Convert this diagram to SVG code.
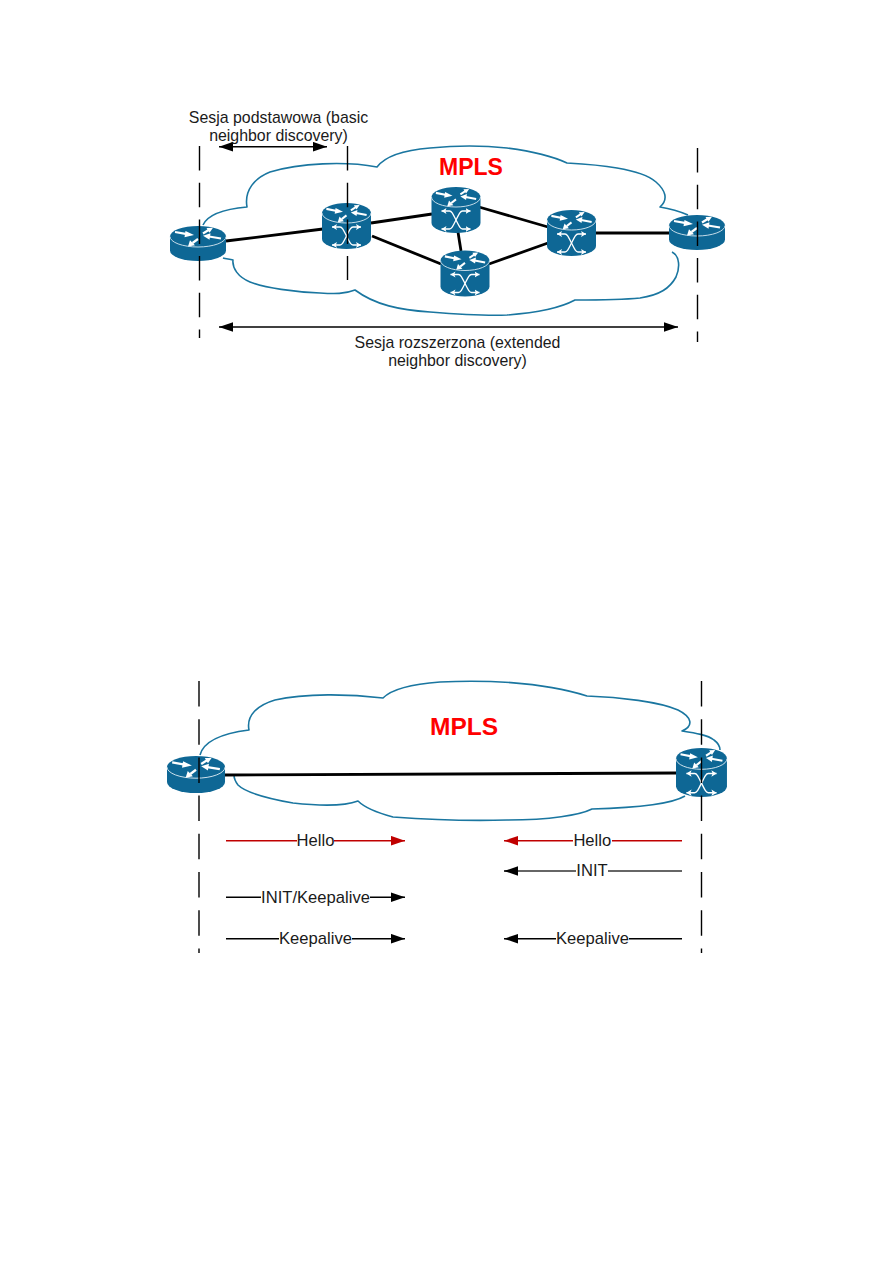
<svg xmlns="http://www.w3.org/2000/svg" width="893" height="1263" viewBox="0 0 893 1263">
<style>
text{font-family:"Liberation Sans",Arial,sans-serif;fill:#1a1a1a;font-size:15.9px;text-anchor:middle}
.low{font-size:16.6px}
.mpls{font-weight:bold;fill:#ff0000}
.cloud{fill:none;stroke:#1a76a0;stroke-width:1.6;stroke-linejoin:round}
.link{stroke:#000;stroke-width:2.8;fill:none}
.dash1{stroke:#000;stroke-width:1.4;stroke-dasharray:24.5 12.2;fill:none}
.dash2{stroke:#000;stroke-width:1.4;stroke-dasharray:25.5 12.7;fill:none}
.arrow{stroke:#000;stroke-width:1.5;fill:none}
.black{marker-end:url(#head)}
.both{marker-start:url(#headS);marker-end:url(#head)}
.red{stroke:#c00000;stroke-width:1.5;fill:none}
.redhead{marker-end:url(#headR)}
.grey{stroke:#333;stroke-width:1.5;fill:none}
.body{fill:#0e6795}
.wl{fill:none;stroke:#fff;stroke-width:2.2}
.wa{fill:#fff}
.sx{fill:none;stroke:#fff;stroke-width:1.3;marker-start:url(#wh);marker-end:url(#wh)}
</style>
<defs>
<marker id="head" markerUnits="userSpaceOnUse" markerWidth="15" markerHeight="11" refX="14" refY="5" orient="auto"><path d="M0,0.2 L14,5 L0,9.800 Z" fill="#000"/></marker>
<marker id="headS" markerUnits="userSpaceOnUse" markerWidth="15" markerHeight="11" refX="0" refY="5" orient="auto"><path d="M14,0.2 L0,5 L14,9.800 Z" fill="#000"/></marker>
<marker id="headR" markerUnits="userSpaceOnUse" markerWidth="15" markerHeight="11" refX="14" refY="5" orient="auto"><path d="M0,0.2 L14,5 L0,9.800 Z" fill="#c00000"/></marker>
<marker id="wh" markerUnits="userSpaceOnUse" markerWidth="6" markerHeight="7" refX="5" refY="3.500" orient="auto-start-reverse"><path d="M0,0.5 L5,3.500 L0,6.500 L1.200,3.500 Z" fill="#fff"/></marker>
<g id="disc">
<path class="wl" d="M5,6 L17,8.200"/><path class="wa" d="M15.500,5 L24,9 L14.500,11.200 Z"/>
<path class="wl" d="M33,7.500 L39,3.800"/><path class="wa" d="M36.500,2 L43,1.800 L39.500,6.800 Z"/>
<path class="wl" d="M51,12.500 L39,10.500"/><path class="wa" d="M40.500,7.300 L33,9.800 L39.500,13.700 Z"/>
<path class="wl" d="M28,13 L22.500,17"/><path class="wa" d="M20,14.300 L18,20.500 L25,19.200 Z"/>
</g>
<g id="router">
<path class="body" d="M0,10.500 A28,10.500 0 0 1 56,10.500 V24.500 A28,10.500 0 0 1 0,24.500 Z"/>
<path fill="none" stroke="#d8e8f0" stroke-width=".9" d="M0,10.500 A28,10.500 0 0 0 56,10.500"/>
<use href="#disc"/>
</g>
<g id="lsr">
<path class="body" d="M0,10 A24.500,10 0 0 1 49,10 V36 A24.500,10 0 0 1 0,36 Z"/>
<path fill="none" stroke="#d8e8f0" stroke-width=".9" d="M0,10 A24.500,10 0 0 0 49,10"/>
<use href="#disc" transform="translate(0,0.3) scale(.875,.93)"/>
<path class="sx" d="M10,24 H18 C20,24 21,26 24.500,33 C28,40 29,42 31,42 H39"/>
<path class="sx" d="M39,24 H31 C29,24 28,26 24.500,33 C21,40 20,42 18,42 H10"/>
</g>
</defs>

<g id="clouds">
<path id="cloud1" class="cloud" d="M203,225 C208,214 225,209 247,207 C244,190 255,178 270,172 C300,163 345,161 377,167 C386,155 405,150 430,148 C450,146 480,145 507,148 C530,151 552,156 567,163 C585,164 600,165 617,168 C635,171 648,175 656,182 C665,190 669,199 660,207 C672,209 681,212 688,215 M672,252 C680,256 680,268 676,277 C670,288 660,295 640,298 C620,300 595,300 575,300 C560,308 535,313 507,315 C480,316 455,314 430,312 C400,310 375,305 355,290 C345,294 335,294 320,293 C295,292 265,288 250,282 C238,277 232,268 233,260 C229,259 226,259 223,258"/>
<path id="cloud2" class="cloud" d="M200,755 C204,740 225,733 249,730 C246,715 258,705 275,700 C305,693 350,694 383,698 C392,689 412,684 440,682 C480,680 540,681 587,696 C620,697 660,702 678,710 C692,717 694,726 682,731 C695,733 708,735 714,740 C718,743 720,747 720,750 M685,796 C670,805 630,808 592,809 C580,815 550,820 507,820 C470,821 420,819 393,817 C378,813 365,808 358,801 C345,806 320,806 293,803 C265,798 245,792 238,785 C235,781 234,778 234,775"/>
</g>

<g id="connectors">
<path class="link" d="M226,241 L323,229"/>
<path class="link" d="M371,223 L432,214"/>
<path class="link" d="M372,236 L441,264"/>
<path class="link" d="M458,232 L461,251"/>
<path class="link" d="M479,207 L548,227"/>
<path class="link" d="M489,264 L548,243"/>
<path class="link" d="M596,233 L670,233"/>
<path class="link" d="M224,775 L677,773"/>
</g>

<g id="r1"><use href="#router" x="170" y="226"/></g>
<g id="r2"><use href="#lsr" x="322" y="203"/></g>
<g id="r3"><use href="#lsr" x="431.500" y="187"/></g>
<g id="r4"><use href="#lsr" x="440.500" y="250.500"/></g>
<g id="r5"><use href="#lsr" x="547" y="210"/></g>
<g id="r6"><use href="#router" x="669" y="215"/></g>
<g id="r7"><use href="#router" transform="translate(167,756) scale(1.036,1.057)"/></g>
<g id="r8"><use href="#lsr" transform="translate(676,748) scale(1.04,1.065)"/></g>

<g id="boundaries">
<path class="dash1" d="M199.500,146 V338"/>
<path class="dash1" d="M347.500,146 V280"/>
<path class="dash1" d="M697.500,148 V342"/>
<path class="dash2" d="M199,681 V953"/>
<path class="dash2" d="M701.500,681 V953"/>
</g>

<g id="sessions">
<path class="arrow both" d="M219,146.700 H327"/>
<path class="arrow both" d="M219,327 H678"/>
<path class="red" d="M226,840.700 H297"/>
<path class="red redhead" d="M334,840.700 H405"/>
<path class="red" d="M682,840.700 H612"/>
<path class="red redhead" d="M573,840.700 H504"/>
<path class="grey" d="M682,871 H608"/>
<path class="grey" d="M576,871 H518"/>
<path class="arrow black" d="M518,871 H504"/>
<path class="arrow" d="M226,897.300 H261"/>
<path class="arrow black" d="M370,897.300 H405"/>
<path class="arrow" d="M226,938.700 H279"/>
<path class="arrow black" d="M352,938.700 H405"/>
<path class="arrow" d="M682,938.700 H629"/>
<path class="arrow black" d="M556,938.700 H504"/>
</g>

<g id="labels">
<text x="278.500" y="122.500">Sesja podstawowa (basic</text>
<text x="278.500" y="141">neighbor discovery)</text>
<text class="mpls" x="471" y="175" style="font-size:23px">MPLS</text>
<text x="457.500" y="348">Sesja rozszerzona (extended</text>
<text x="457.500" y="366">neighbor discovery)</text>
<text class="mpls" x="464" y="735" style="font-size:24.500px">MPLS</text>
<text class="low" x="315.500" y="845.500">Hello</text>
<text class="low" x="592.300" y="845.500">Hello</text>
<text class="low" x="592" y="876">INIT</text>
<text class="low" x="315.500" y="902.500">INIT/Keepalive</text>
<text class="low" x="315.500" y="943.500">Keepalive</text>
<text class="low" x="592.500" y="943.500">Keepalive</text>
</g>
</svg>
